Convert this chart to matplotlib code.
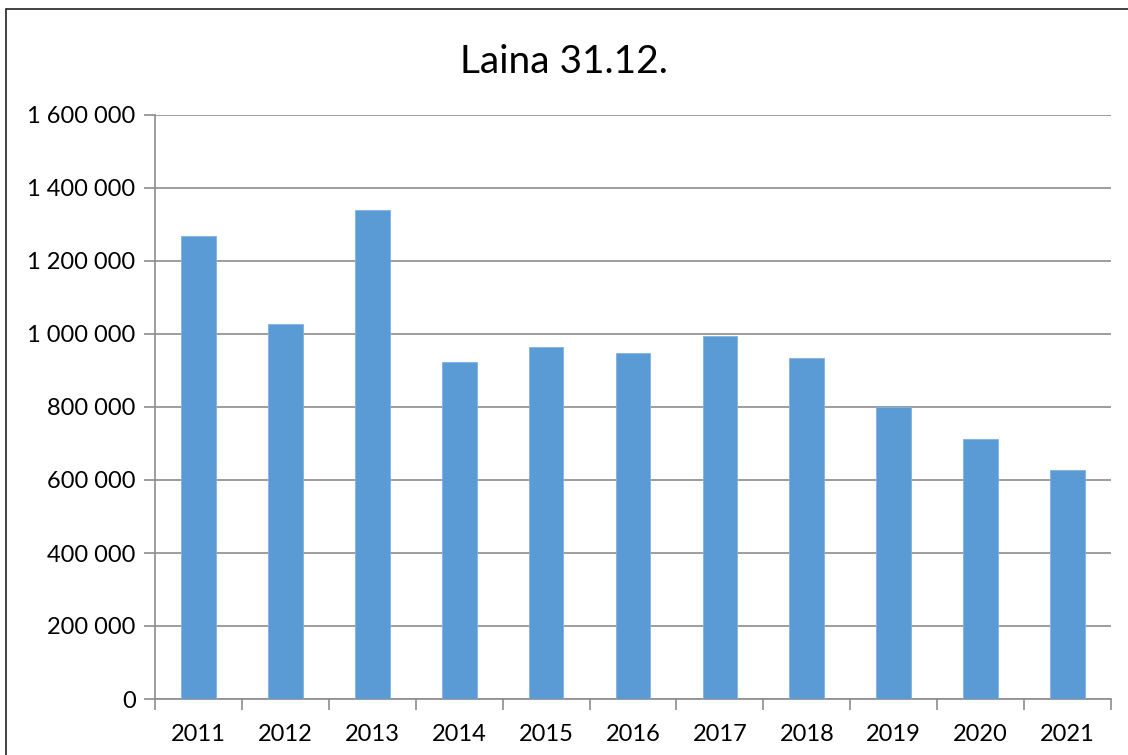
import matplotlib.pyplot as plt
from matplotlib.patches import Rectangle
from matplotlib.ticker import FuncFormatter

years = ["2011", "2012", "2013", "2014", "2015", "2016",
         "2017", "2018", "2019", "2020", "2021"]
laina = [1269000, 1027000, 1340000, 923000, 964000, 948000,
         995000, 934000, 800000, 713000, 627000]
y_ticks = [0, 200000, 400000, 600000, 800000, 1000000, 1200000, 1400000, 1600000]

plt.rcParams['font.family'] = ['Lato', 'DejaVu Sans']

W, H = 1128, 755
fig = plt.figure(figsize=(W / 100, H / 100), dpi=100)
ax = fig.add_axes([155 / W, 1 - 699 / H, (1111 - 155) / W, (699 - 115) / H])

# chart frame (right/bottom edges fall outside the picture)
fig.patches.append(Rectangle((6 / W, -0.1), 1.2, 1.1 - 9 / H, transform=fig.transFigure,
                             fill=False, edgecolor="#222222", linewidth=1.2))

x = range(len(years))
ax.bar(x, laina, width=0.4, color="#5B9BD5", edgecolor="#7FB2E0", linewidth=0.6, zorder=3)

ax.set_xlim(-0.5, len(years) - 0.5)
ax.set_ylim(0, 1600000)
ax.set_yticks(y_ticks)
ax.yaxis.set_major_formatter(FuncFormatter(lambda v, p: f"{int(v):,}".replace(",", " ")))
ax.set_xticks(list(x))
ax.set_xticklabels(years)
ax.set_xticks([i - 0.5 for i in range(len(years) + 1)], minor=True)

ax.grid(axis="y", color="#8c8c8c", linewidth=1.2, zorder=0)
for s in ["top", "right"]:
    ax.spines[s].set_visible(False)
for s in ["left", "bottom"]:
    ax.spines[s].set_color("#8c8c8c")
    ax.spines[s].set_linewidth(1.2)

ax.tick_params(axis="y", length=8, width=1.2, color="#8c8c8c", labelsize=17, pad=6)
ax.tick_params(axis="x", which="major", length=0, labelsize=17, pad=18)
ax.tick_params(axis="x", which="minor", length=8, width=1.2, color="#8c8c8c")

fig.text(0.5, 1 - 62 / H, "Laina 31.12.", ha="center", va="center", fontsize=28)

fig.savefig("out.png", dpi=100)
